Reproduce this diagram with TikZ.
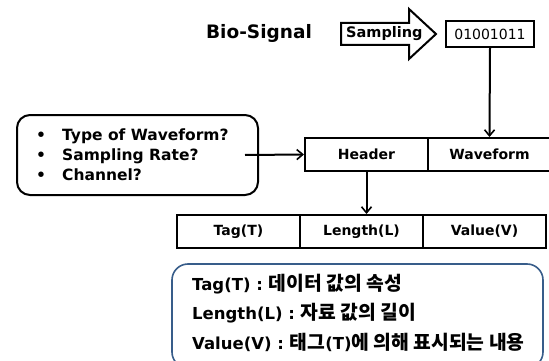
\documentclass[tikz,border=0pt]{standalone}
\usepackage{fontspec}
\setmainfont{DejaVu Sans}
\newfontfamily\kr[Scale=1.17]{Noto Sans CJK KR}
\usetikzlibrary{arrows.meta}
\definecolor{boxblue}{RGB}{56,93,138}
\begin{document}
\begin{tikzpicture}[x=1pt,y=-1pt,
  cell/.style={draw,line width=2pt,minimum width=123pt,minimum height=33pt,inner sep=0pt,font=\fontsize{14}{16}\selectfont\bfseries},
  conn/.style={line width=2pt,-{Straight Barb[length=6pt,width=10pt,line width=1.6pt]}},
  lbl/.style={font=\fontsize{16.5}{18}\selectfont\bfseries,inner sep=0pt}
]
\useasboundingbox (0,0) rectangle (549,361);
% Bio-Signal
\node[inner sep=0pt,font=\fontsize{18.5}{20}\selectfont\bfseries] (bio) at (259,33) {Bio-Signal};
% Sampling block arrow
\draw[line width=2pt,line join=miter] (341,23) -- (409,23) -- (409,9) -- (436,34) -- (409,59) -- (409,45) -- (341,45) -- cycle;
\node[inner sep=0pt,anchor=west,font=\fontsize{14.5}{16}\selectfont\bfseries] (samp) at (346,34) {Sampling};
% bits
\node[draw,line width=2pt,minimum width=88pt,minimum height=26pt,inner sep=0pt,font=\fontsize{14}{16}\selectfont] (bits) at (490,34) {01001011};
% header row
\node[cell] (header) at (366.5,154.5) {Header};
\node[cell] (wave) at (489.5,154.5) {Waveform};
% TLV row
\node[cell] (tag) at (238.5,231.5) {Tag(T)};
\node[cell] (len) at (361.5,231.5) {Length(L)};
\node[cell] (val) at (484.5,231.5) {Value(V)};
% question box
\node[draw,line width=2pt,rounded corners=13pt,minimum width=241pt,minimum height=80pt,inner sep=0pt] (q) at (137.5,155) {};
\node[anchor=west,inner sep=0pt,align=left,font=\fontsize{15.5}{20}\selectfont\bfseries] (qtext) at (34,155)
  {\makebox[28pt][l]{\hspace{2pt}•}Type of Waveform?\\
   \makebox[28pt][l]{\hspace{2pt}•}Sampling Rate?\\
   \makebox[28pt][l]{\hspace{2pt}•}Channel?};
\coordinate (qs) at (245,155);
% bottom explanation box
\node[draw=boxblue,line width=1.6pt,rounded corners=16pt,minimum width=371pt,minimum height=104pt,inner sep=0pt] (expl) at (357.5,316) {};
\node[lbl,anchor=west] (e1) at (192,284) {Tag(T) : {\kr 데이터 값의 속성}};
\node[lbl,anchor=west] (e2) at (192,313) {Length(L) : {\kr 자료 값의 길이}};
\node[lbl,anchor=west] (e3) at (192,342) {Value(V) : {\kr 태그}(T){\kr 에 의해 표시되는 내용}};
% connectors
\draw[conn] (bits.south) -- (wave.north);
\draw[conn] (qs) -- (header.west);
\draw[conn] (header.south) -- (header.south |- len.north);
\end{tikzpicture}
\end{document}
